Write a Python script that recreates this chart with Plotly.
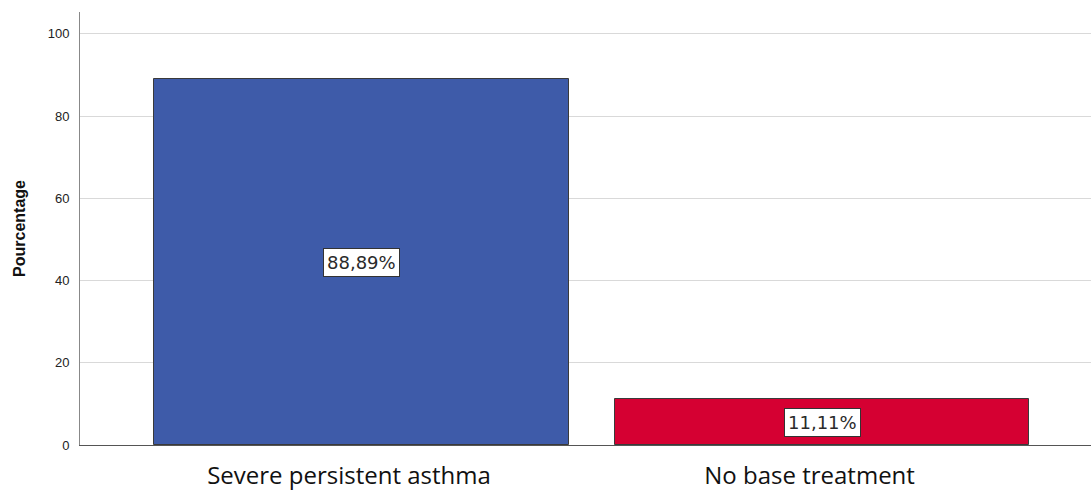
import plotly.graph_objects as go

categories = ["Severe persistent asthma", "No base treatment"]
percentages = [88.89, 11.11]
value_labels = ["88,89%", "11,11%"]
bar_colors = ["#3E5BA9", "#D50032"]
y_ticks = [0, 20, 40, 60, 80, 100]

positions = list(range(len(categories)))
# category captions sit slightly left of the bar centres
label_positions = [p - 0.027 for p in positions]

fig = go.Figure()
fig.add_trace(go.Bar(
    x=positions,
    y=percentages,
    width=0.9,
    marker=dict(color=bar_colors, line=dict(color="#3a3a3a", width=1)),
    hoverinfo="skip",
    showlegend=False,
))

# value boxes centred at half the bar height
for pos, val, lab in zip(positions, percentages, value_labels):
    fig.add_annotation(
        x=pos, y=val / 2, text=lab, showarrow=False,
        font=dict(family="DejaVu Sans", size=18, color="#2a2a2a"),
        bgcolor="white", bordercolor="#333333", borderwidth=1, borderpad=3,
    )

fig.update_layout(
    width=1091, height=492,
    margin=dict(l=80, r=0, t=12, b=47),
    paper_bgcolor="white", plot_bgcolor="white",
    bargap=0,
    xaxis=dict(
        range=[-0.611, 1.584],
        tickmode="array", tickvals=label_positions, ticktext=categories,
        tickfont=dict(family="Open Sans, Liberation Sans", size=24, color="#111111"),
        showgrid=False, zeroline=False,
        showline=True, linecolor="#555555", linewidth=1,
        ticks="", ticklabelstandoff=9, automargin=False,
    ),
    yaxis=dict(
        range=[0, 105.3],
        tickmode="array", tickvals=y_ticks,
        tickfont=dict(family="Liberation Sans, Arial", size=13, color="#222222"),
        showgrid=True, gridcolor="#d9d9d9", gridwidth=1,
        zeroline=False,
        showline=True, linecolor="#888888", linewidth=1,
        ticks="", ticklabelstandoff=7, automargin=False,
        title=dict(text="<b>Pourcentage</b>", standoff=18,
                   font=dict(family="Liberation Sans, Arial", size=16, color="#111111")),
    ),
)

fig.write_html("out.html")
